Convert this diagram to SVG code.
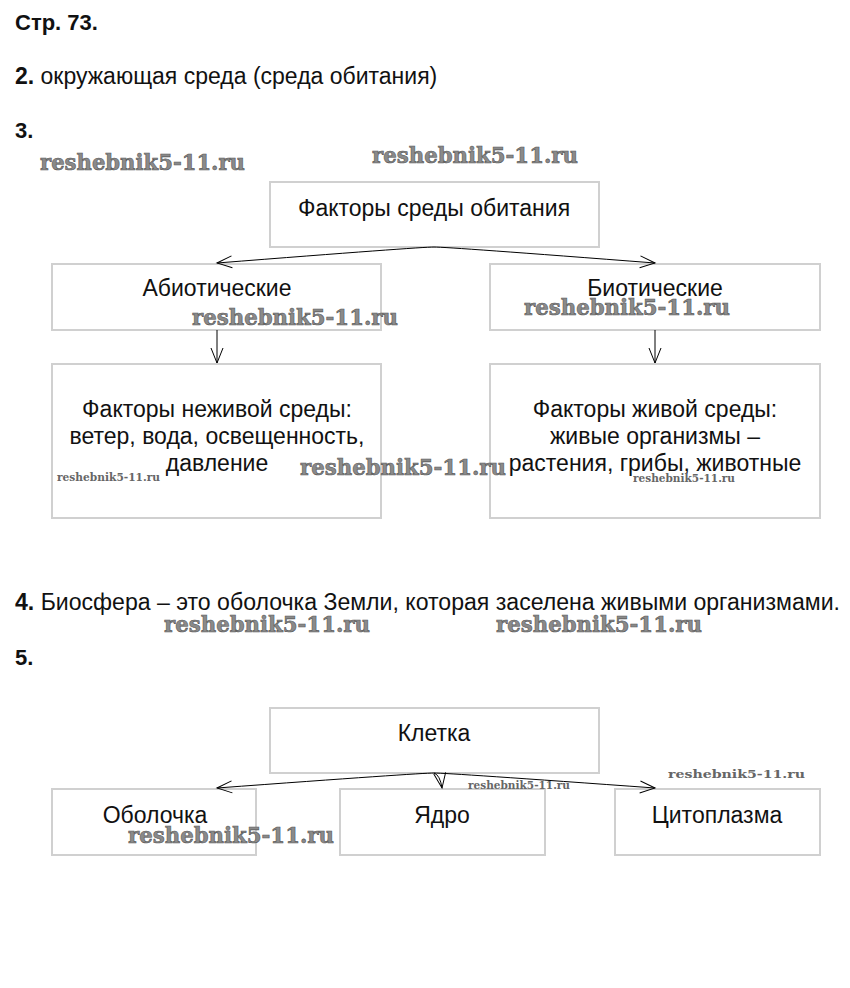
<svg xmlns="http://www.w3.org/2000/svg" width="850" height="988" viewBox="0 0 850 988">
<defs>
<marker id="ah" markerWidth="18" markerHeight="14" refX="16" refY="7" orient="auto" markerUnits="userSpaceOnUse">
<path d="M1,1 L16,7 L1,13" fill="none" stroke="#000" stroke-width="1"/>
</marker>
<style>
.t{font-family:"Liberation Sans",Arial,sans-serif;font-size:23px;fill:#111}
.h{font-size:22px}
.b{font-weight:bold}
.c{text-anchor:middle}
.box{fill:#fff;stroke:#d0d0d0;stroke-width:2}
.ln{fill:none;stroke:#000;stroke-width:1}
.wm{font-family:"DejaVu Serif","Liberation Serif",serif;font-weight:bold;fill:#8a8a8a;stroke:#555;stroke-width:0.6}
.ws{font-family:"DejaVu Serif","Liberation Serif",serif;font-weight:bold;fill:#666;font-size:11px}
</style>
</defs>
<rect width="850" height="988" fill="#fff"/>
<g id="headings">
<text class="t h b" x="15" y="30">Стр. 73.</text>
<text class="t" x="15" y="84"><tspan class="b">2.</tspan> окружающая среда (среда обитания)</text>
<text class="t h b" x="15" y="138">3.</text>
<text class="t" x="15" y="610" font-size="24" textLength="825" lengthAdjust="spacingAndGlyphs"><tspan class="b">4.</tspan> Биосфера – это оболочка Земли, которая заселена живыми  организмами.</text>
<text class="t h b" x="15" y="665">5.</text>
</g>
<g id="n_factors"><rect class="box" x="270" y="182" width="329" height="65"/><text class="t c" x="434" y="216">Факторы среды обитания</text></g>
<g id="n_abiotic"><rect class="box" x="52" y="264" width="329" height="66"/><text class="t c" x="217" y="296">Абиотические</text></g>
<g id="n_biotic"><rect class="box" x="490" y="264" width="330" height="66"/><text class="t c" x="655" y="296">Биотические</text></g>
<g id="n_abiotic_f"><rect class="box" x="52" y="364" width="329" height="154"/>
<text class="t c" x="217" y="417">Факторы неживой среды:</text>
<text class="t c" x="217" y="444">ветер, вода, освещенность,</text>
<text class="t c" x="217" y="471">давление</text></g>
<g id="n_biotic_f"><rect class="box" x="490" y="364" width="330" height="154"/>
<text class="t c" x="655" y="417">Факторы живой среды:</text>
<text class="t c" x="655" y="444">живые организмы –</text>
<text class="t c" x="655" y="471">растения, грибы, животные</text></g>
<g id="n_cell"><rect class="box" x="270" y="708" width="329" height="65"/><text class="t c" x="434" y="741">Клетка</text></g>
<g id="n_membrane"><rect class="box" x="52" y="789" width="204" height="66"/><text class="t c" x="155" y="823">Оболочка</text></g>
<g id="n_nucleus"><rect class="box" x="340" y="789" width="205" height="66"/><text class="t c" x="442" y="823">Ядро</text></g>
<g id="n_cyto"><rect class="box" x="615" y="789" width="205" height="66"/><text class="t c" x="717" y="823">Цитоплазма</text></g>
<g id="connectors">
<path class="ln" d="M434,247 Q420,247 217,263" marker-end="url(#ah)"/>
<path class="ln" d="M434,247 Q448,247 655,263" marker-end="url(#ah)"/>
<path class="ln" d="M217,330 L217,363" marker-end="url(#ah)"/>
<path class="ln" d="M655,330 L655,363" marker-end="url(#ah)"/>
<path class="ln" d="M434,773 Q420,773 217,788" marker-end="url(#ah)"/>
<path class="ln" d="M434,773 Q440,775 442,788" marker-end="url(#ah)"/>
<path class="ln" d="M434,773 Q448,773 655,788" marker-end="url(#ah)"/>
</g>
<g id="watermarks">
<text class="wm" x="40" y="170" font-size="22" textLength="205" lengthAdjust="spacingAndGlyphs">reshebnik5-11.ru</text>
<text class="wm" x="372" y="163" font-size="22" textLength="206" lengthAdjust="spacingAndGlyphs">reshebnik5-11.ru</text>
<text class="wm" x="192" y="325" font-size="22" textLength="206" lengthAdjust="spacingAndGlyphs">reshebnik5-11.ru</text>
<text class="wm" x="524" y="315" font-size="22" textLength="206" lengthAdjust="spacingAndGlyphs">reshebnik5-11.ru</text>
<text class="ws" x="57" y="481" textLength="103" lengthAdjust="spacingAndGlyphs">reshebnik5-11.ru</text>
<text class="wm" x="300" y="475" font-size="22" textLength="206" lengthAdjust="spacingAndGlyphs">reshebnik5-11.ru</text>
<text class="ws" x="633" y="482" textLength="102" lengthAdjust="spacingAndGlyphs">reshebnik5-11.ru</text>
<text class="wm" x="164" y="632" font-size="22" textLength="206" lengthAdjust="spacingAndGlyphs">reshebnik5-11.ru</text>
<text class="wm" x="496" y="632" font-size="22" textLength="206" lengthAdjust="spacingAndGlyphs">reshebnik5-11.ru</text>
<text class="ws" x="468" y="789" textLength="102" lengthAdjust="spacingAndGlyphs">reshebnik5-11.ru</text>
<text class="ws" x="668" y="778" font-size="15" textLength="137" lengthAdjust="spacingAndGlyphs">reshebnik5-11.ru</text>
<text class="wm" x="128" y="843" font-size="22" textLength="206" lengthAdjust="spacingAndGlyphs">reshebnik5-11.ru</text>
</g>
</svg>
